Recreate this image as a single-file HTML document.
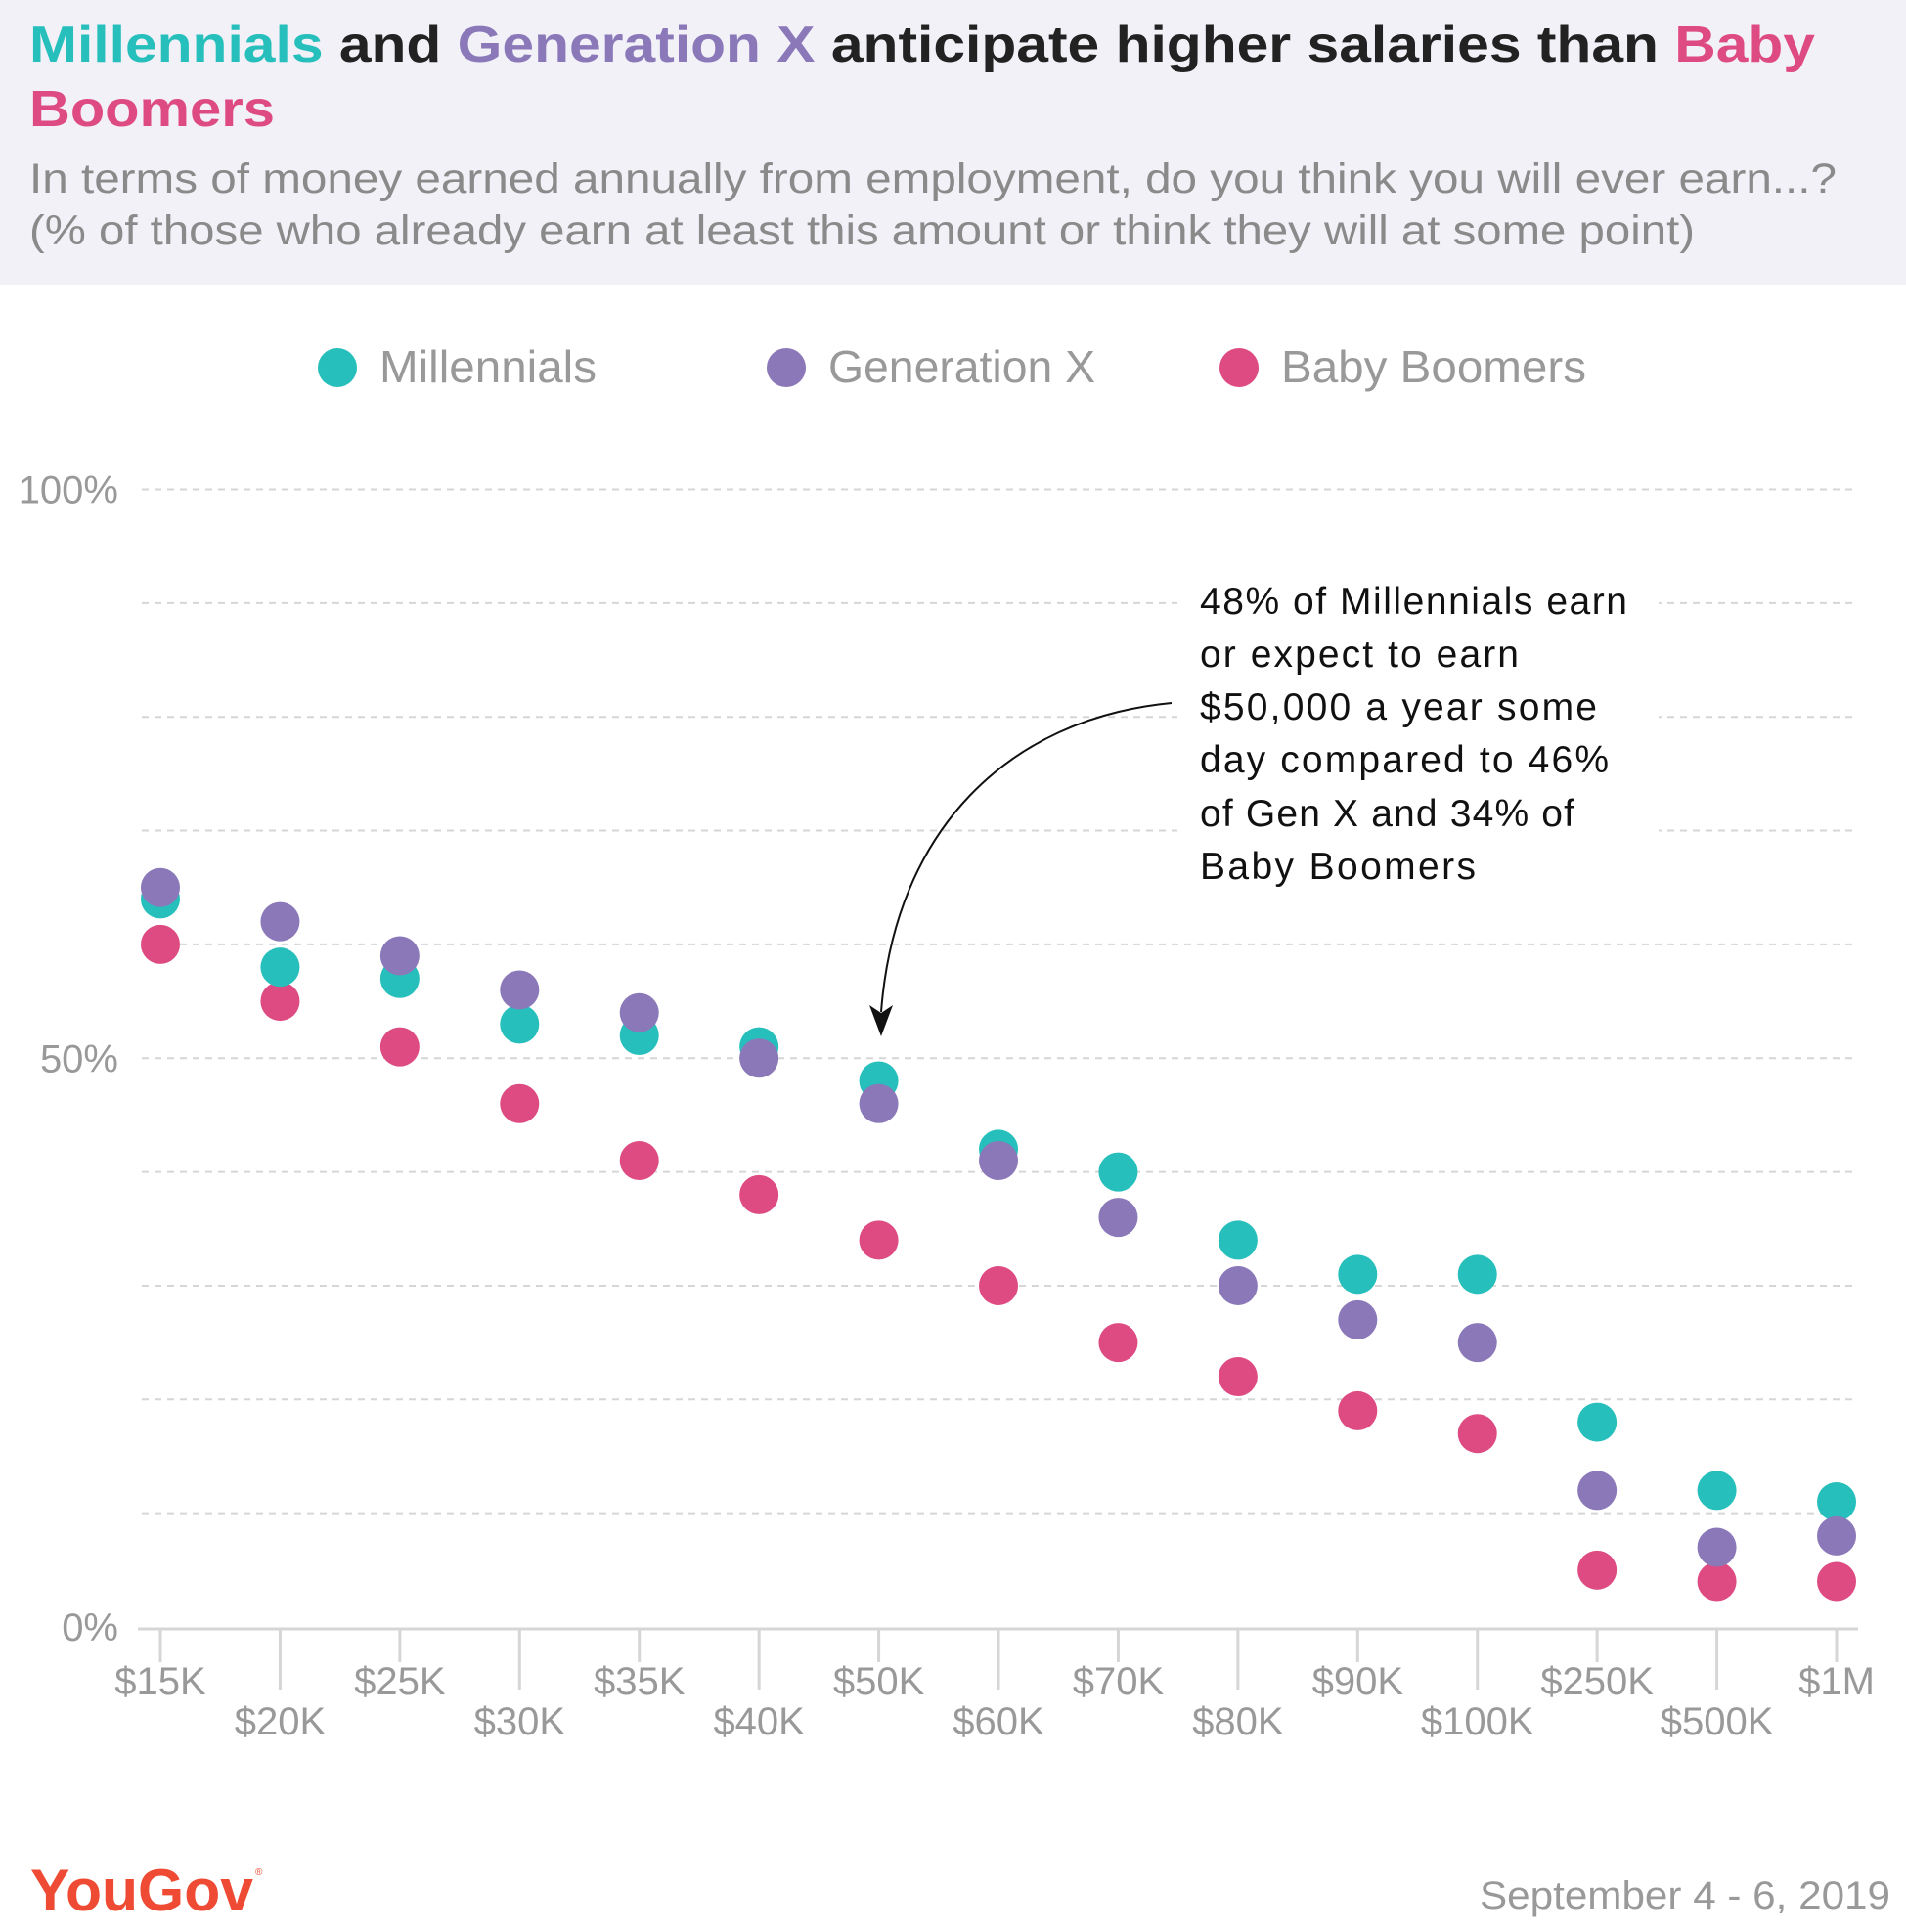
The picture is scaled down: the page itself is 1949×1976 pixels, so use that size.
<!DOCTYPE html>
<html><head><meta charset="utf-8"><style>
body{margin:0;background:#fff;width:1949px;height:1976px;overflow:hidden;font-family:"Liberation Sans",sans-serif}
svg{display:block}
</style></head><body>
<svg width="1949" height="1976" viewBox="0 0 1949 1976" xmlns="http://www.w3.org/2000/svg">
<rect x="0" y="0" width="1949" height="292" fill="#f2f1f8"/>
<text x="30" y="63" font-size="52" font-weight="bold" fill="#222" textLength="1826" lengthAdjust="spacingAndGlyphs"><tspan fill="#26bfbc">Millennials</tspan> and <tspan fill="#8a78b9">Generation X</tspan> anticipate higher salaries than <tspan fill="#de4b83">Baby</tspan></text>
<text x="30" y="129" font-size="52" font-weight="bold" fill="#de4b83" textLength="251" lengthAdjust="spacingAndGlyphs">Boomers</text>
<text x="30" y="197" font-size="43" fill="#8a8a8a" textLength="1848" lengthAdjust="spacingAndGlyphs">In terms of money earned annually from employment, do you think you will ever earn...?</text>
<text x="30" y="250" font-size="43" fill="#8a8a8a" textLength="1703" lengthAdjust="spacingAndGlyphs">(% of those who already earn at least this amount or think they will at some point)</text>
<g id="legend"></g>
<g id="grid"></g>
<g id="axes"></g>
<g id="dots"></g>
<rect x="1204" y="590" width="492" height="330" fill="#fff"/>
<text font-size="39" fill="#111" lengthAdjust="spacingAndGlyphs">
<tspan x="1227" y="628" textLength="437">48% of Millennials earn</tspan>
<tspan x="1227" y="682" textLength="326">or expect to earn</tspan>
<tspan x="1227" y="736" textLength="406">$50,000 a year some</tspan>
<tspan x="1227" y="790" textLength="418">day compared to 46%</tspan>
<tspan x="1227" y="845" textLength="383">of Gen X and 34% of</tspan>
<tspan x="1227" y="899" textLength="282">Baby Boomers</tspan>
</text>
<path d="M1198 719 C1030 735 915 850 901 1035" fill="none" stroke="#111" stroke-width="2"/>
<polygon points="901,1060 889,1028 901,1036 913,1028" fill="#111"/>
<text x="31" y="1954" font-size="60" font-weight="bold" fill="#ee4a34" textLength="228" lengthAdjust="spacingAndGlyphs">YouGov</text>
<text x="261" y="1918" font-size="10" fill="#ee4a34">®</text>
<text x="1933" y="1952" font-size="40" fill="#999" text-anchor="end" textLength="420" lengthAdjust="spacingAndGlyphs">September 4 - 6, 2019</text>
</svg>
<script>
const categories=["$15K","$20K","$25K","$30K","$35K","$40K","$50K","$60K","$70K","$80K","$90K","$100K","$250K","$500K","$1M"];
const millennials=[64,58,57,53,52,51,48,42,40,34,31,31,18,12,11];
const genX=[65,62,59,56,54,50,46,41,36,30,27,25,12,7,8];
const boomers=[60,55,51,46,41,38,34,30,25,22,19,17,5,4,4];
const yTicks=[0,50,100];
const NS="http://www.w3.org/2000/svg";
const X0=164,XSTEP=122.43,Y0=1664,YH=1163.5;
function xPos(i){return X0+i*XSTEP;}
function yPos(v){return Y0-v/100*YH;}
function mk(t,a,p){const e=document.createElementNS(NS,t);for(const k in a)e.setAttribute(k,a[k]);p.appendChild(e);return e;}
const grid=document.getElementById('grid'),axes=document.getElementById('axes'),dots=document.getElementById('dots'),legend=document.getElementById('legend');
for(let v=10;v<=100;v+=10){const l=mk('line',{x1:145,x2:1900,y1:yPos(v),y2:yPos(v),stroke:'#d6d6d6','stroke-width':2,'stroke-dasharray':'7 6'},grid);

}
yTicks.forEach(v=>{const t=mk('text',{x:121,y:yPos(v)+14,'font-size':40,fill:'#999','text-anchor':'end'},axes);t.textContent=v+'%';

});
const ax=mk('line',{x1:141,x2:1900,y1:Y0+2,y2:Y0+2,stroke:'#d6d6d6','stroke-width':3},axes);


categories.forEach((c,i)=>{const x=xPos(i);
const tk=mk('line',{x1:x,x2:x,y1:Y0+2,y2:i%2?1728:1700,stroke:'#d6d6d6','stroke-width':3},axes);


const t=mk('text',{x:x,y:i%2?1774:1733,'font-size':40,fill:'#999','text-anchor':'middle'},axes);t.textContent=c;

});
const series=[["millennials",millennials,"#26bfbc","Millennials",345,222],["generation-x",genX,"#8a78b9","Generation X",804,273],["baby-boomers",boomers,"#de4b83","Baby Boomers",1267,312]];
const order=[2,0,1];
order.forEach(si=>{const [n,vals,col]=series[si];vals.forEach((v,i)=>{const c=mk('circle',{cx:xPos(i),cy:yPos(v),r:20,fill:col},dots);

});});
series.forEach(([n,vals,col,label,lx,tl])=>{const c=mk('circle',{cx:lx,cy:376,r:20,fill:col},legend);


const t=mk('text',{x:lx+43,y:391,'font-size':46,fill:'#999',textLength:tl,lengthAdjust:'spacingAndGlyphs'},legend);t.textContent=label;

});
</script>
</body></html>
